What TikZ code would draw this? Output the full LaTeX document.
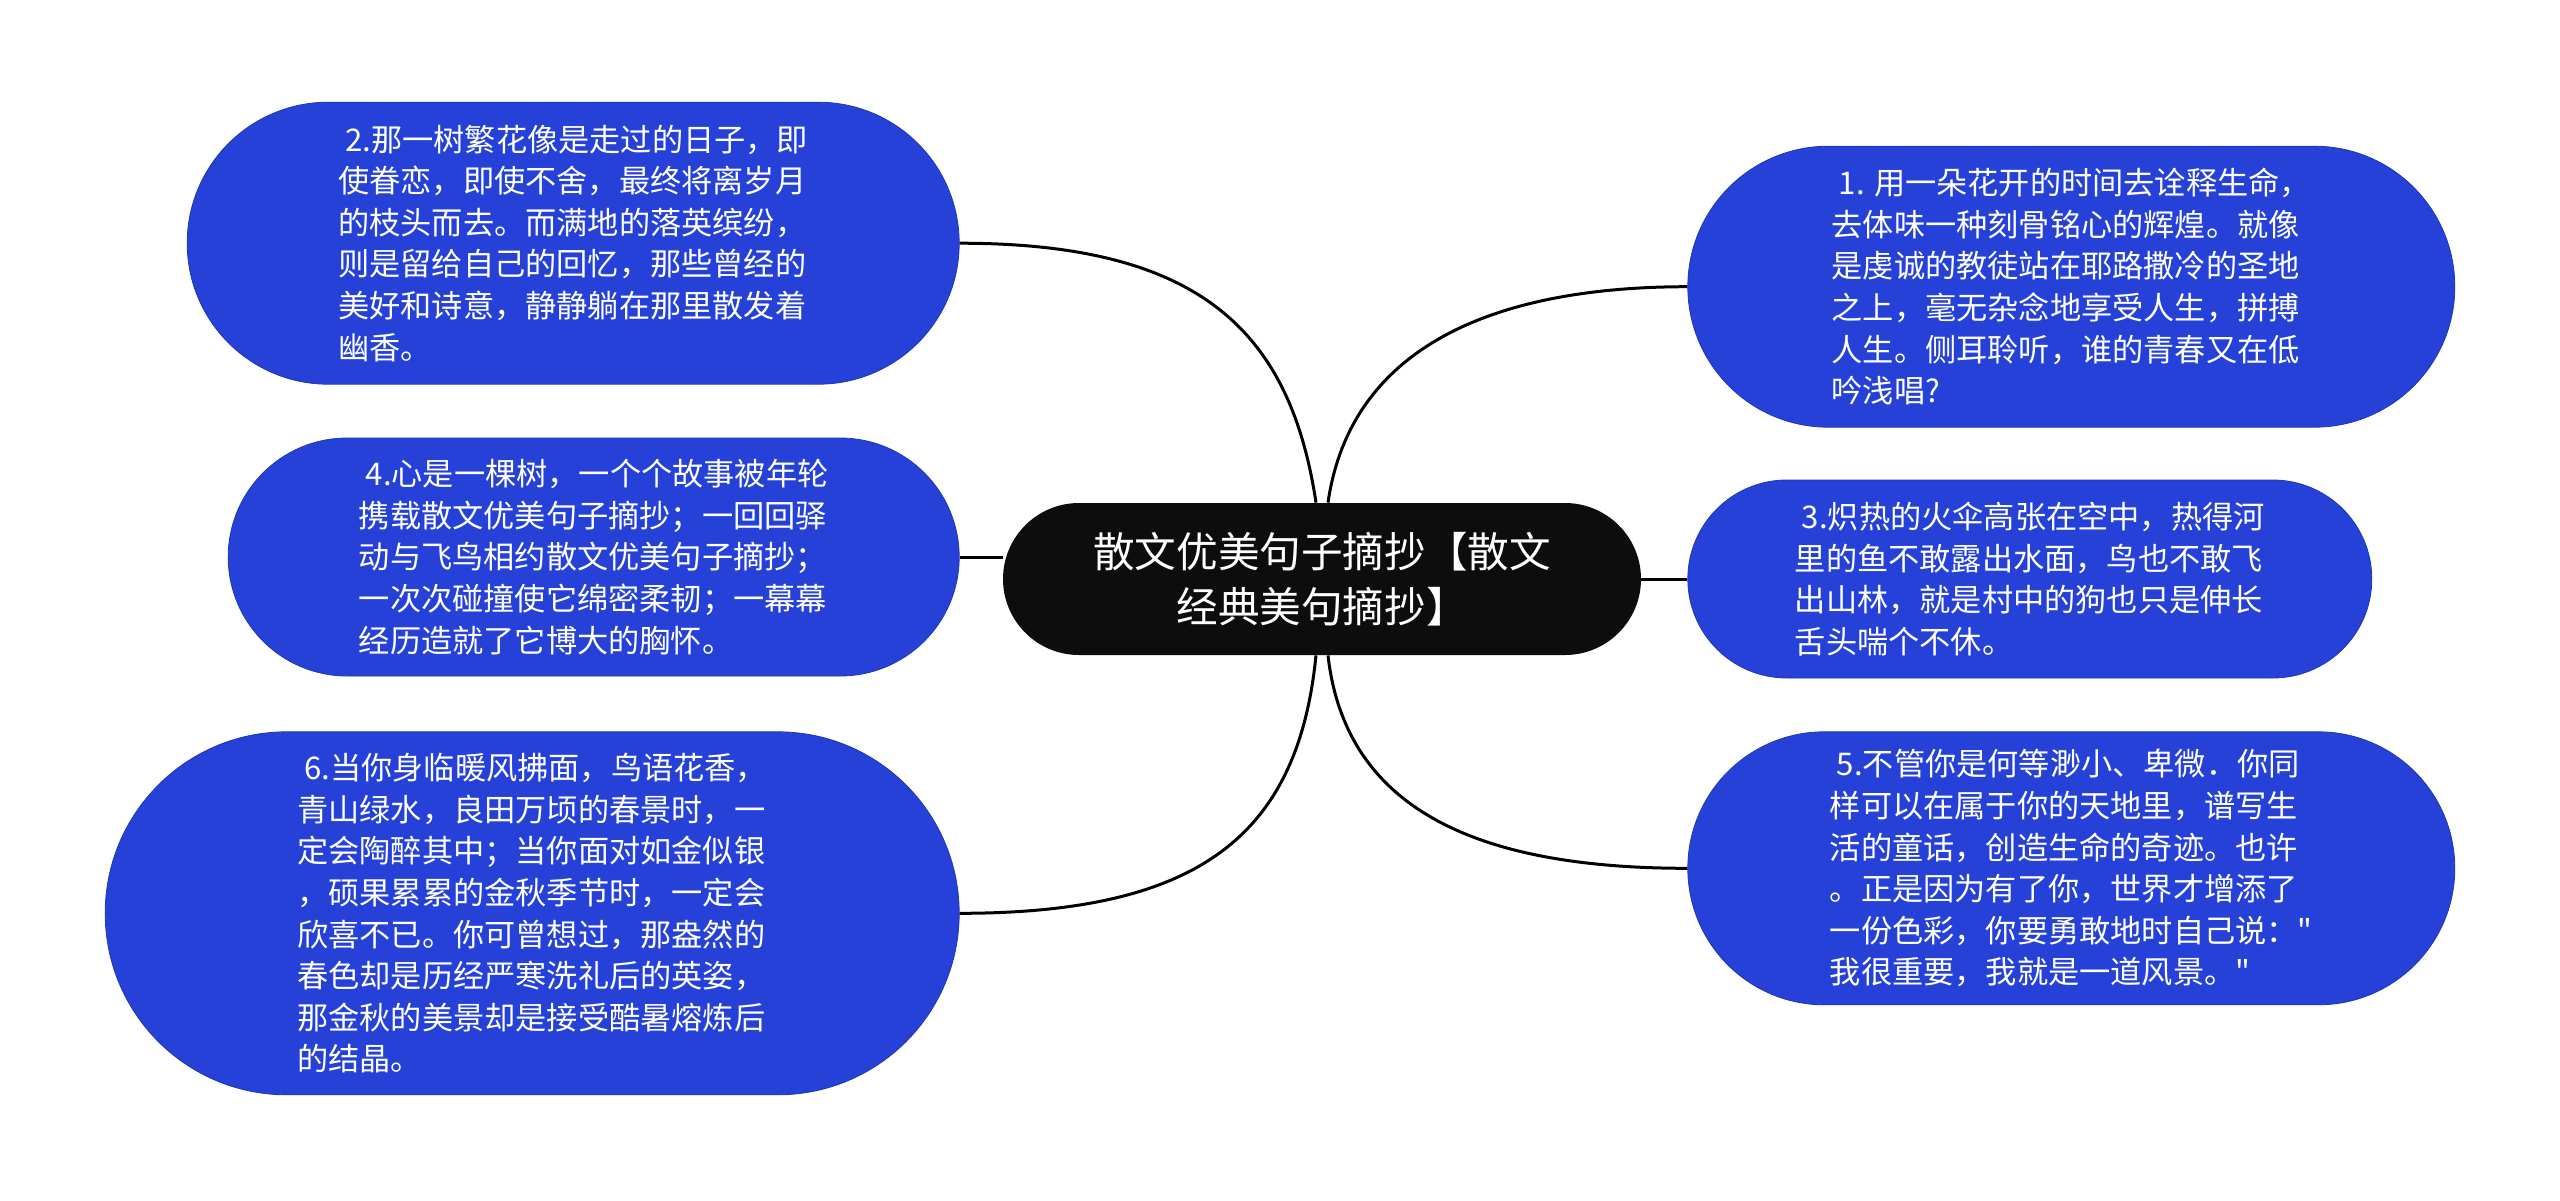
\documentclass[tikz,border=0pt]{standalone}
\usepackage{fontspec}
\setmainfont{Noto Sans CJK SC}[Ligatures=TeXOff]
\usepackage{xcolor}
\usepackage{tikz}
\usetikzlibrary{positioning}
\definecolor{leafblue}{HTML}{2541D8}
\definecolor{leafedge}{HTML}{1E36B8}
\definecolor{rootblack}{HTML}{0D0D0D}
\tikzset{
  leaf/.style={rectangle,fill=leafblue,draw=leafedge,line width=0.4pt,text=white,align=left,inner sep=0pt,font=\fontsize{15.6pt}{20.8pt}\selectfont},
  root/.style={rectangle,rounded corners=38pt,fill=rootblack,text=white,align=center,inner sep=0pt,minimum width=319pt,minimum height=76pt,font=\fontsize{20.8pt}{27.7pt}\selectfont},
  branch/.style={draw=black,line width=1.5pt}
}

\begin{document}
\begin{tikzpicture}[node distance=26.5pt]
  \useasboundingbox (0,0) rectangle (1280pt,-600pt);

  \node[root] (center) at (661pt,-289.5pt) {散文优美句子摘抄【散文\\经典美句摘抄】};

  \node[leaf, minimum width=365.5pt, minimum height=119pt, rounded corners=59.5pt, left=21.5pt of center, yshift=11pt] (n4)
    {\ 4.心是一棵树，一个个故事被年轮\\携载散文优美句子摘抄；一回回驿\\动与飞鸟相约散文优美句子摘抄；\\一次次碰撞使它绵密柔韧；一幕幕\\经历造就了它博大的胸怀。};
  \node[leaf, minimum width=386pt, minimum height=141pt, rounded corners=70.5pt, above=of n4.north east, anchor=south east] (n2)
    {\ 2.那一树繁花像是走过的日子，即\\使眷恋，即使不舍，最终将离岁月\\的枝头而去。而满地的落英缤纷，\\则是留给自己的回忆，那些曾经的\\美好和诗意，静静躺在那里散发着\\幽香。};
  \node[leaf, minimum width=427pt, minimum height=181.5pt, rounded corners=90.75pt, below=27.5pt of n4.south east, anchor=north east] (n6)
    {\ 6.当你身临暖风拂面，鸟语花香，\\青山绿水，良田万顷的春景时，一\\定会陶醉其中；当你面对如金似银\\，硕果累累的金秋季节时，一定会\\欣喜不已。你可曾想过，那盎然的\\春色却是历经严寒洗礼后的英姿，\\那金秋的美景却是接受酷暑熔炼后\\的结晶。};

  \node[leaf, minimum width=342pt, minimum height=99pt, rounded corners=49.5pt, right=23pt of center] (n3)
    {\ 3.炽热的火伞高张在空中，热得河\\里的鱼不敢露出水面，鸟也不敢飞\\出山林，就是村中的狗也只是伸长\\舌头喘个不休。};
  \node[leaf, minimum width=383.5pt, minimum height=140.5pt, rounded corners=70.25pt, above=26pt of n3.north west, anchor=south west] (n1)
    {\ 1. 用一朵花开的时间去诠释生命，\\去体味一种刻骨铭心的辉煌。就像\\是虔诚的教徒站在耶路撒冷的圣地\\之上，毫无杂念地享受人生，拼搏\\人生。侧耳聆听，谁的青春又在低\\吟浅唱?};
  \node[leaf, minimum width=383.5pt, minimum height=136.5pt, rounded corners=68.25pt, below=of n3.south west, anchor=north west] (n5)
    {\ 5.不管你是何等渺小、卑微．你同\\样可以在属于你的天地里，谱写生\\活的童话，创造生命的奇迹。也许\\。正是因为有了你，世界才增添了\\一份色彩，你要勇敢地时自己说："\\我很重要，我就是一道风景。"};

  % branches
  \draw[branch] (n2.east) .. controls ([xshift=120pt]n2.east) and ([xshift=-16pt,yshift=86pt]center.north) .. ([xshift=-3pt]center.north);
  \draw[branch] (n1.west) .. controls ([xshift=-100pt]n1.west) and ([xshift=14pt,yshift=76pt]center.north) .. ([xshift=3pt]center.north);
  \draw[branch] (n6.east) .. controls ([xshift=120pt]n6.east) and ([xshift=-12pt,yshift=-90pt]center.south) .. ([xshift=-3pt]center.south);
  \draw[branch] (n5.west) .. controls ([xshift=-100pt]n5.west) and ([xshift=12pt,yshift=-80pt]center.south) .. ([xshift=3pt]center.south);
  \draw[branch] (n4.east) -- (center.west |- n4.east);
  \draw[branch] (center.east) -- (n3.west);
\end{tikzpicture}
\end{document}
